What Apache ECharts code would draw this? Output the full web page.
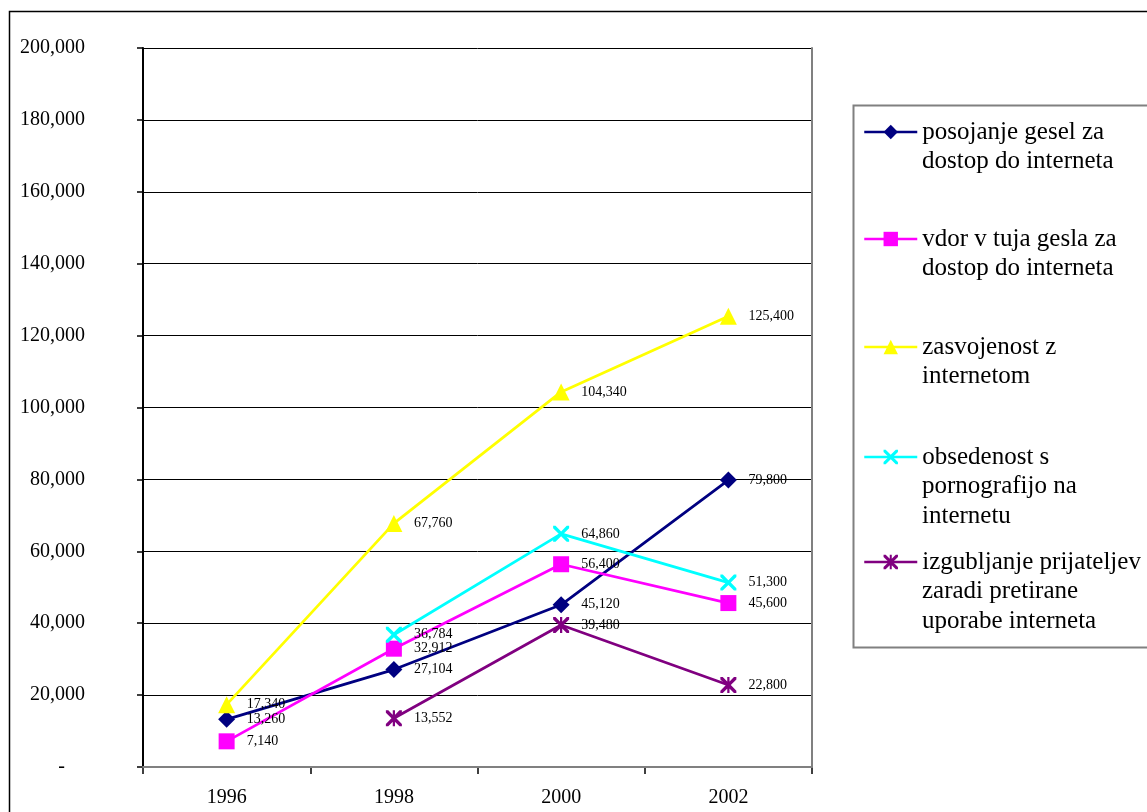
<!DOCTYPE html>
<html>
<head>
<meta charset="utf-8">
<script src="https://cdn.jsdelivr.net/npm/echarts@6/dist/echarts.min.js"></script>
<style>
html,body{margin:0;padding:0;background:#fff;}
#chart{width:1147px;height:812px;}
</style>
</head>
<body>
<div id="chart"></div>
<script>
// ---- data ----
const years = ['1996', '1998', '2000', '2002'];
const seriesNames = [
  'posojanje gesel za dostop do interneta',
  'vdor v tuja gesla za dostop do interneta',
  'zasvojenost z internetom',
  'obsedenost s pornografijo na internetu',
  'izgubljanje prijateljev zaradi pretirane uporabe interneta'
];
const legendLines = [
  ['posojanje gesel za', 'dostop do interneta'],
  ['vdor v tuja gesla za', 'dostop do interneta'],
  ['zasvojenost z', 'internetom'],
  ['obsedenost s', 'pornografijo na', 'internetu'],
  ['izgubljanje prijateljev', 'zaradi pretirane', 'uporabe interneta']
];
const posojanje = [13260, 27104, 45120, 79800];
const vdor = [7140, 32912, 56400, 45600];
const zasvojenost = [17340, 67760, 104340, 125400];
const obsedenost = [null, 36784, 64860, 51300];
const izgubljanje = [null, 13552, 39480, 22800];
const yTicks = { min: 0, max: 200000, interval: 20000 };

// ---- styling ----
const FONT = 'Liberation Serif';
const colors = ['#000080', '#FF00FF', '#FFFF00', '#00FFFF', '#800080'];
const xPath = 'path://M0,0 L3,0 L10,7 L17,0 L20,0 L20,3 L13,10 L20,17 L20,20 L17,20 L10,13 L3,20 L0,20 L0,17 L7,10 L0,3 Z';
const starPath = 'path://M0,0 L3,0 L10,7 L17,0 L20,0 L20,3 L13,10 L20,17 L20,20 L17,20 L10,13 L3,20 L0,20 L0,17 L7,10 L0,3 Z M8.6,0 L11.4,0 L11.4,20 L8.6,20 Z';
const symbols = ['diamond', 'rect', 'triangle', xPath, starPath];
const symbolSizes = [17, 16, 17, 16, 16];
const dataSets = [posojanje, vdor, zasvojenost, obsedenost, izgubljanje];

const fmt = v => Number(v).toLocaleString('en-US');

const series = dataSets.map((d, i) => ({
  name: seriesNames[i],
  type: 'line',
  data: d,
  connectNulls: false,
  symbol: symbols[i],
  symbolSize: symbolSizes[i],
  showAllSymbol: true,
  color: colors[i],
  lineStyle: { width: 2.75, color: colors[i] },
  itemStyle: { color: colors[i] },
  label: {
    show: true,
    position: 'right',
    distance: 20 - symbolSizes[i] / 2,
    formatter: p => fmt(p.value),
    fontFamily: FONT,
    fontSize: 14,
    color: '#000'
  },
  emphasis: { disabled: true },
  animation: false
}));

const L = 29.5, IH = 18, TXT_LH = 30;
const iconCenters = [132, 239, 347, 457, 562];
const legends = seriesNames.map((n, i) => ({
  data: [n],
  left: 863,
  top: iconCenters[i] - TXT_LH / 2,
  orient: 'vertical',
  padding: 0,
  itemWidth: 53,
  itemHeight: IH,
  selectedMode: false,
  lineStyle: { width: 2.5 },
  formatter: () => legendLines[i][0],
  textStyle: { fontFamily: FONT, fontSize: 25, lineHeight: TXT_LH, color: '#000' }
}));

const extraLegendText = [];
legendLines.forEach((lines, i) => {
  lines.slice(1).forEach((t, j) => {
    extraLegendText.push({
      type: 'text', silent: true, z: 10,
      x: 922, y: iconCenters[i] + (j + 1) * L,
      style: { text: t, fontFamily: FONT, fontSize: 25, fill: '#000', verticalAlign: 'middle', align: 'left' }
    });
  });
});

const chart = echarts.init(document.getElementById('chart'), null, { renderer: 'canvas' });
chart.setOption({
  backgroundColor: '#fff',
  animation: false,
  grid: { left: 143, top: 48, right: 335, bottom: 45, containLabel: false },
  legend: legends,
  xAxis: [{
    type: 'category',
    data: years,
    boundaryGap: true,
    axisLine: { lineStyle: { color: '#000', width: 2 } },
    axisTick: { show: true, length: 7, alignWithLabel: false, lineStyle: { color: '#000', width: 1.5 } },
    axisLabel: { fontFamily: FONT, fontSize: 20, color: '#000', margin: 21 },
    splitLine: { show: false }
  }, {
    type: 'category',
    data: years,
    position: 'top',
    z: 5,
    axisLine: { lineStyle: { color: '#808080', width: 2 } },
    axisTick: { show: false },
    axisLabel: { show: false }
  }],
  yAxis: [{
    type: 'value',
    min: yTicks.min,
    max: yTicks.max,
    interval: yTicks.interval,
    axisLine: { show: true, lineStyle: { color: '#000', width: 2 } },
    axisTick: { show: true, length: 6, lineStyle: { color: '#000', width: 1.5 } },
    axisLabel: {
      fontFamily: FONT, fontSize: 20, color: '#000', margin: 58,
      formatter: v => v === 0 ? '{d|-}' : fmt(v),
      rich: { d: { fontFamily: FONT, fontSize: 20, color: '#000', padding: [0, 20, 0, 0] } }
    },
    splitLine: { show: true, lineStyle: { color: '#000', width: 1 } }
  }, {
    type: 'value',
    position: 'right',
    z: 5,
    min: yTicks.min,
    max: yTicks.max,
    interval: yTicks.interval,
    axisLine: { show: true, lineStyle: { color: '#808080', width: 2 } },
    axisTick: { show: false },
    axisLabel: { show: false },
    splitLine: { show: false }
  }],
  graphic: [
    { type: 'rect', silent: true, z: -10,
      shape: { x: 9.5, y: 11.5, width: 1300, height: 1000 },
      style: { fill: 'none', stroke: '#000', lineWidth: 1.5 } },
    { type: 'rect', silent: true, z: -5,
      shape: { x: 853.5, y: 105.5, width: 400, height: 542 },
      style: { fill: '#fff', stroke: '#808080', lineWidth: 2 } }
  ].concat(extraLegendText),
  series: series
});
</script>
</body>
</html>
